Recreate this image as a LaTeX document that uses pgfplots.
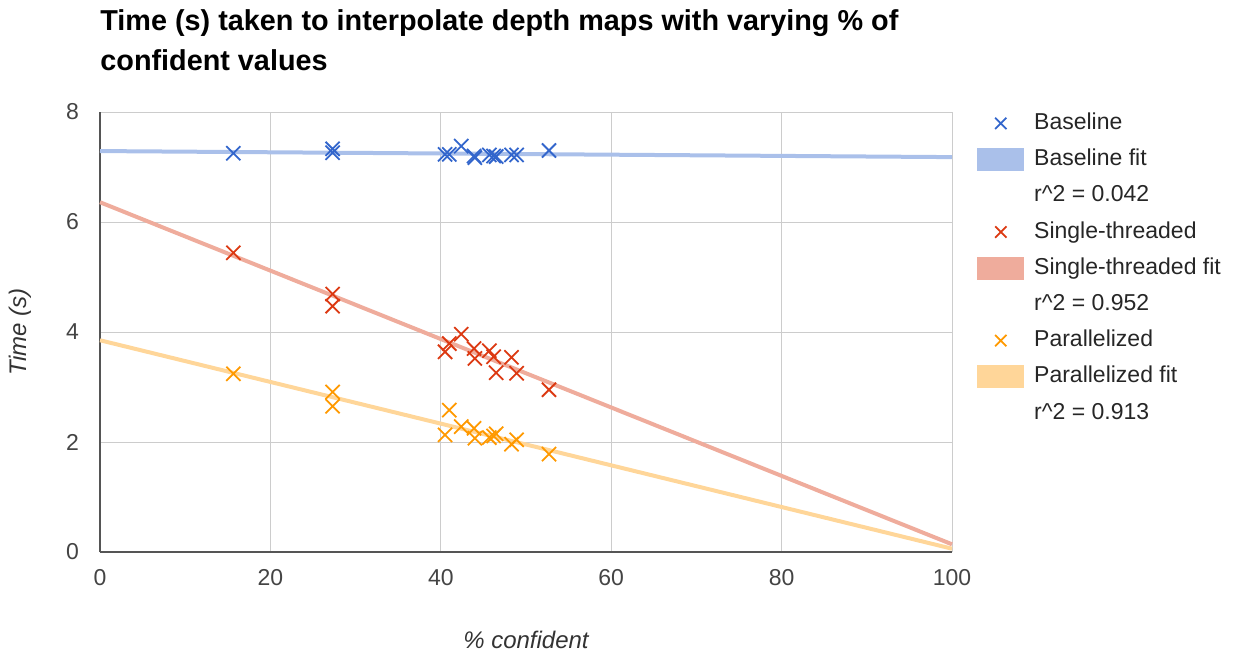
\documentclass[border=0pt]{standalone}
\usepackage{fontspec}
\setmainfont{Liberation Sans}
\usepackage{pgfplots}
\pgfplotsset{compat=1.18}
\usepackage{pgfplotstable}
\definecolor{cblue}{HTML}{3366CC}
\definecolor{cred}{HTML}{DC3912}
\definecolor{corange}{HTML}{FF9900}
\definecolor{fblue}{HTML}{AAC0EA}
\definecolor{fred}{HTML}{EFAC9C}
\definecolor{forange}{HTML}{FFD699}
\definecolor{gridc}{HTML}{CCCCCC}
\definecolor{tickc}{HTML}{444444}
\definecolor{axc}{HTML}{555555}
\pgfplotsset{
  markleg/.style={legend image code/.code={\draw[mark repeat=2,mark phase=2,##1] plot coordinates {(0pt,0pt)(11.5pt,0pt)(23pt,0pt)};}},
  rectleg/.style={legend image code/.code={\fill[##1] (0pt,-5.5pt) rectangle (23pt,5.5pt);}},
}

\pgfplotstableread{
x y
15.65 7.25
27.3 7.33
27.3 7.26
40.5 7.23
41.0 7.23
42.4 7.38
43.9 7.20
44.0 7.17
45.7 7.22
46.2 7.20
46.5 7.19
48.3 7.22
48.9 7.22
52.7 7.30
}\baseline
\pgfplotstableread{
x y
15.65 5.44
27.3 4.69
27.3 4.47
40.5 3.64
41.0 3.79
42.4 3.96
43.9 3.70
44.0 3.52
45.7 3.66
46.2 3.55
46.5 3.26
48.3 3.54
48.9 3.25
52.7 2.95
}\single
\pgfplotstableread{
x y
15.65 3.24
27.3 2.91
27.3 2.65
40.5 2.13
41.0 2.58
42.4 2.28
43.9 2.25
44.0 2.07
45.7 2.08
46.2 2.11
46.5 2.15
48.3 1.96
48.9 2.04
52.7 1.78
}\parallel

\begin{document}
\begin{tikzpicture}
\path[use as bounding box] (0,0) rectangle (619pt,327.5pt);
\begin{axis}[
  at={(50pt,51.5pt)}, anchor=south west,
  scale only axis, width=426pt, height=220pt,
  xmin=0, xmax=100, ymin=0, ymax=8,
  xtick={0,20,...,100}, ytick={0,2,...,8},
  grid=major, grid style={gridc, line width=0.5pt},
  axis x line*=bottom, axis y line*=left,
  axis line style={axc, line width=0.7pt, -},
  major tick length=0pt,
  /pgf/number format/assume math mode=true,
  tick label style={font=\fontsize{11.5pt}{13pt}\selectfont, text=tickc},
  xticklabel style={yshift=-5pt},
  yticklabel style={xshift=-7pt},
  xlabel={\itshape\% confident},
  ylabel={\itshape Time (s)},
  label style={font=\fontsize{12pt}{14pt}\selectfont, text=black!80},
  xlabel style={at={(axis description cs:0.5,0)}, anchor=center, yshift=-44pt},
  ylabel style={at={(axis description cs:0,0.5)}, anchor=center, rotate=0, yshift=40pt},
  title={Time (s) taken to interpolate depth maps with varying \% of\\confident values},
  title style={at={(axis description cs:0,1)}, anchor=south west, align=left, inner sep=0pt, yshift=14.5pt,
    font=\fontsize{14.4pt}{20pt}\selectfont\bfseries},
  legend style={at={(1,1)}, anchor=north west, xshift=12.5pt, yshift=0.5pt,
    draw=none, fill=none, inner sep=0pt, row sep=6.1pt, column sep=5pt,
    font=\fontsize{11.5pt}{13pt}\selectfont,
    nodes={inner sep=0pt, text height=9pt, text depth=3pt, anchor=west, text=black!85}},
  legend cell align=left,
  clip=false,
]
% fit lines
\addplot[forget plot, fblue, line width=2pt] coordinates {(0,7.29) (100,7.18)};
\addplot[forget plot, fred, line width=2pt] coordinates {(0,6.36) (100,0.14)};
\addplot[forget plot, forange, line width=2pt] coordinates {(0,3.85) (100,0.06)};
% points
\addplot[forget plot, only marks, mark=x, mark size=5pt, cblue, line width=0.9pt] table {\baseline};
\addplot[forget plot, only marks, mark=x, mark size=5pt, cred, line width=0.9pt] table {\single};
\addplot[forget plot, only marks, mark=x, mark size=5pt, corange, line width=0.9pt] table {\parallel};
% legend
\addlegendimage{markleg, only marks, mark=x, cblue, line width=0.9pt, mark size=4pt}
\addlegendentry{Baseline}
\addlegendimage{rectleg, fblue}
\addlegendentry{Baseline fit}
\addlegendimage{empty legend}
\addlegendentry{r\^{}2 = 0.042}
\addlegendimage{markleg, only marks, mark=x, cred, line width=0.9pt, mark size=4pt}
\addlegendentry{Single-threaded}
\addlegendimage{rectleg, fred}
\addlegendentry{Single-threaded fit}
\addlegendimage{empty legend}
\addlegendentry{r\^{}2 = 0.952}
\addlegendimage{markleg, only marks, mark=x, corange, line width=0.9pt, mark size=4pt}
\addlegendentry{Parallelized}
\addlegendimage{rectleg, forange}
\addlegendentry{Parallelized fit}
\addlegendimage{empty legend}
\addlegendentry{r\^{}2 = 0.913}
\end{axis}
\end{tikzpicture}
\end{document}
